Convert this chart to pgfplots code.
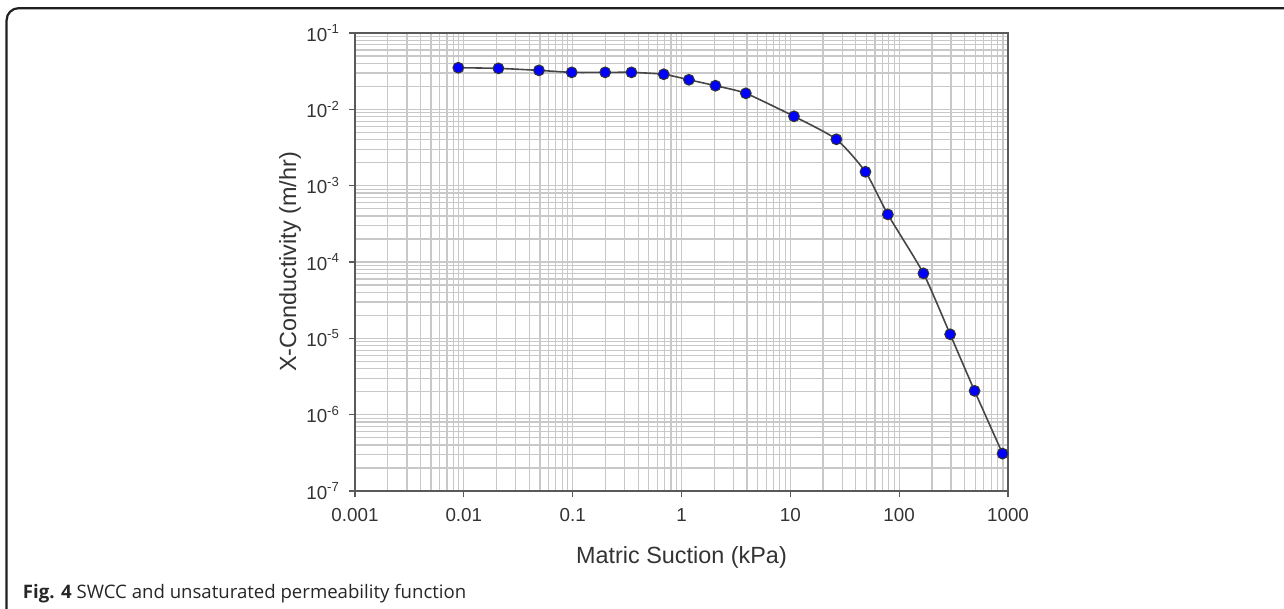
\documentclass[border=0pt]{standalone}
\usepackage{fontspec}
\setmainfont{Liberation Sans}
\newfontfamily\capfont{Open Sans}
\usepackage{pgfplots}
\pgfplotsset{compat=1.18}
\definecolor{gridgray}{RGB}{200,200,200}
\definecolor{axgray}{RGB}{90,90,90}
\definecolor{curvegray}{RGB}{70,70,70}
\begin{document}
\begin{tikzpicture}[x=1pt,y=1pt]
\useasboundingbox (-177.5,-59) rectangle (464.5,245.5);
\draw[line width=1.1pt, color=black!88, rounded corners=6pt] (-174.2,-70) -- (-174.2,241.4) -- (480,241.4);
\begin{axis}[
  at={(0,0)}, anchor=south west,
  scale only axis, width=326.5pt, height=229pt,
  xmode=log, ymode=log,
  xmin=1e-3, xmax=1e3, ymin=1e-7, ymax=1e-1,
  xtick={1e-3,1e-2,1e-1,1,10,100,1000},
  xticklabels={0.001,0.01,0.1,1,10,100,1000},
  ytick={1e-7,1e-6,1e-5,1e-4,1e-3,1e-2,1e-1},
  yticklabels={10\textsuperscript{-7},10\textsuperscript{-6},10\textsuperscript{-5},10\textsuperscript{-4},10\textsuperscript{-3},10\textsuperscript{-2},10\textsuperscript{-1}},
  minor xtick={0.002,0.003,0.004,0.005,0.006,0.007,0.008,0.009,
    0.02,0.03,0.04,0.05,0.06,0.07,0.08,0.09,
    0.2,0.3,0.4,0.5,0.6,0.7,0.8,0.9,
    2,3,4,5,6,7,8,9,
    20,30,40,50,60,70,80,90,
    200,300,400,500,600,700,800,900},
  minor ytick={2e-7,3e-7,4e-7,5e-7,6e-7,7e-7,8e-7,9e-7,
    2e-6,3e-6,4e-6,5e-6,6e-6,7e-6,8e-6,9e-6,
    2e-5,3e-5,4e-5,5e-5,6e-5,7e-5,8e-5,9e-5,
    2e-4,3e-4,4e-4,5e-4,6e-4,7e-4,8e-4,9e-4,
    2e-3,3e-3,4e-3,5e-3,6e-3,7e-3,8e-3,9e-3,
    2e-2,3e-2,4e-2,5e-2,6e-2,7e-2,8e-2,9e-2},
  grid=both,
  major grid style={gridgray, line width=0.6pt},
  minor grid style={gridgray, line width=0.6pt},
  tick align=outside, tick pos=left,
  major tick length=3pt, minor tick length=0pt,
  tick style={axgray, line width=0.6pt},
  axis line style={axgray, line width=0.7pt},
  ticklabel style={font=\fontsize{9.4}{11}\selectfont, text=black!80},
  xticklabel style={yshift=-2pt},
  yticklabel style={xshift=-1pt},
  xlabel={Matric Suction (kPa)},
  ylabel={X-Conductivity (m/hr)},
  label style={font=\fontsize{11.7}{14}\selectfont, text=black!80},
  xlabel style={at={(axis description cs:0.5,0)}, anchor=base, yshift=-36pt},
  ylabel style={at={(axis description cs:0,0.5)}, anchor=north, yshift=41.5pt},
]
\addplot[color=curvegray, line width=0.8pt, smooth, tension=0.35,
  mark=*, mark size=2.7pt, mark options={fill=blue, draw=black!80, line width=0.5pt}]
  table[row sep=\\]{
  x y\\
  0.0089 0.0351\\
  0.0208 0.0344\\
  0.049 0.0324\\
  0.098 0.0305\\
  0.199 0.0305\\
  0.347 0.0305\\
  0.687 0.0288\\
  1.17 0.0244\\
  2.05 0.0204\\
  3.9 0.0162\\
  10.8 0.0081\\
  26.5 0.00405\\
  49 0.00152\\
  78.7 0.00042\\
  167 7.1e-5\\
  294 1.13e-5\\
  493 2.05e-6\\
  891 3.09e-7\\
  };
\end{axis}
\node[anchor=base west, font=\capfont\fontsize{9.3}{11}\selectfont, text=black!85, inner sep=0pt] at (-166.2,-54) {\textbf{Fig. 4} SWCC and unsaturated permeability function};
\end{tikzpicture}
\end{document}
